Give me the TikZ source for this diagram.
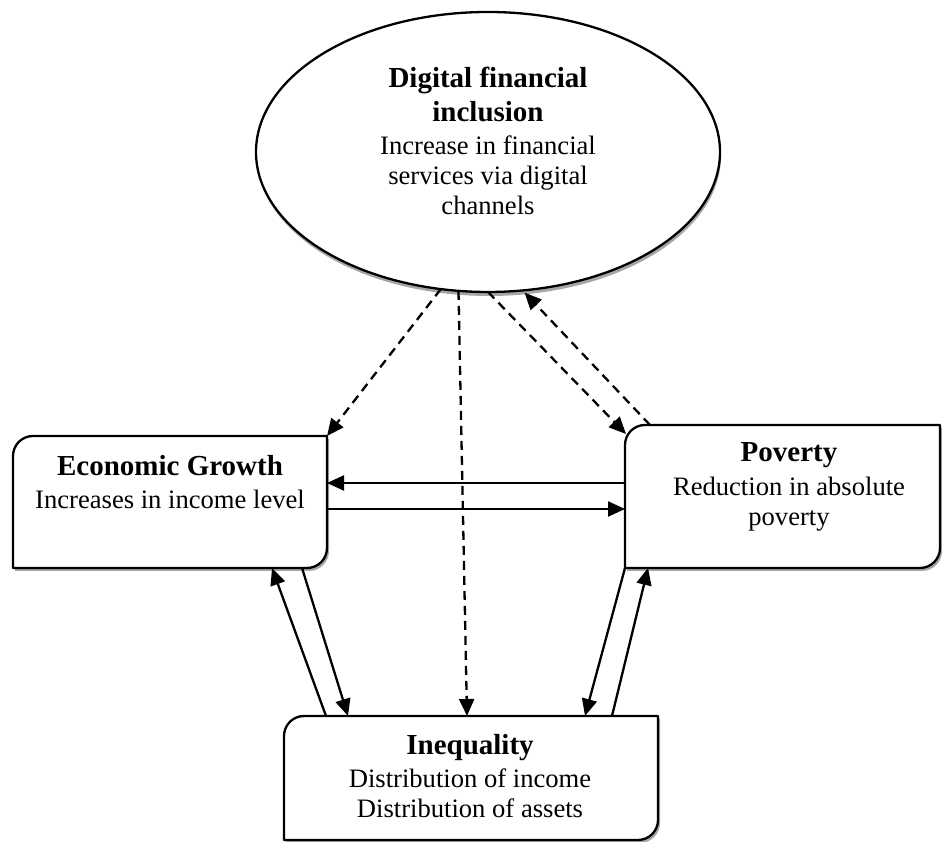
\documentclass[tikz,border=0pt]{standalone}
\usepackage{fontspec}
\setmainfont{Liberation Serif}
\usetikzlibrary{arrows.meta,shapes.geometric}

% bold heading line inside a box
\newcommand\hd[1]{{\fontsize{29}{30}\selectfont\bfseries #1}}

% box with rounded top-left and bottom-right corners, with a drop shadow
\newcommand\cornerbox[1]{%
  \fill[shadowfill]
    ([shift={(2pt,-3pt)}]#1.south west) -- ([shift={(2pt,-23pt)}]#1.north west)
    arc[start angle=180,end angle=90,radius=20pt] -- ([shift={(2pt,-3pt)}]#1.north east)
    -- ([shift={(2pt,17pt)}]#1.south east)
    arc[start angle=0,end angle=-90,radius=20pt] -- cycle;
  \draw[outline]
    (#1.south west) -- ([yshift=-20pt]#1.north west)
    arc[start angle=180,end angle=90,radius=20pt] -- (#1.north east)
    -- ([yshift=20pt]#1.south east)
    arc[start angle=0,end angle=-90,radius=20pt] -- cycle;}

\begin{document}
\begin{tikzpicture}[x=1pt,y=1pt,
  every node/.style={inner sep=0pt,outer sep=0pt},
  outline/.style={line width=2.3pt,draw=black,fill=white,line join=round},
  shadowfill/.style={fill=black!35,draw=none},
  flow/.style={line width=2.3pt,-{Triangle[length=17pt,width=15pt]}},
  influence/.style={flow,dash pattern=on 9pt off 6pt},
  boxtext/.style={align=center,font=\fontsize{26.6}{30}\selectfont},
]
\useasboundingbox (0,0) rectangle (942,842);

% frames of the three outcome boxes
\node[minimum width=314pt,minimum height=132pt] (eg) at (170,340) {};
\node[minimum width=315pt,minimum height=143pt] (pov) at (782.5,345.5) {};
\node[minimum width=374pt,minimum height=124pt] (ineq) at (471,64) {};
\cornerbox{eg}
\cornerbox{pov}
\cornerbox{ineq}

% central ellipse with its shadow
\fill[shadowfill] (489,686) ellipse[x radius=232,y radius=140];
\node[ellipse,minimum width=464pt,minimum height=280pt,outline] (dfi) at (488,690) {};

% texts
\node[boxtext] (dfi-text) at (488,701.5)
  {\hd{Digital financial}\\[4pt]\hd{inclusion}\\[3pt]Increase in financial\\services via digital\\channels};
\node[boxtext] (eg-text) at (170,359.5) {\hd{Economic Growth}\\[3pt]Increases in income level};
\node[boxtext] (pov-text) at (789,355) {\hd{Poverty}\\[4pt]Reduction in absolute\\poverty};
\node[boxtext] (ineq-text) at (470,65.5) {\hd{Inequality}\\[3pt]Distribution of income\\Distribution of assets};

% effects of digital financial inclusion
\draw[influence] (dfi.251) -- (eg.north east);
\draw[influence] (dfi.258.5) -- ([xshift=-4pt]ineq.north);
\draw[influence] (dfi.270) -- ([shift={(1pt,-9pt)}]pov.north west);
\draw[influence,shorten >=3pt] ([xshift=25pt]pov.north west) -- (dfi.284);

% growth <-> poverty
\draw[flow] ([yshift=13.5pt]pov.west) -- ([yshift=19pt]eg.east);
\draw[flow] ([yshift=-7pt]eg.east) -- ([yshift=-12.5pt]pov.west);

% growth <-> inequality
\draw[flow] ([xshift=42pt]ineq.north west) -- ([xshift=259pt]eg.south west);
\draw[flow] ([xshift=289pt]eg.south west) -- ([xshift=64pt]ineq.north west);

% poverty <-> inequality
\draw[flow] (pov.south west) -- ([xshift=301pt]ineq.north west);
\draw[flow] ([xshift=328pt]ineq.north west) -- ([xshift=23pt]pov.south west);
\end{tikzpicture}
\end{document}
